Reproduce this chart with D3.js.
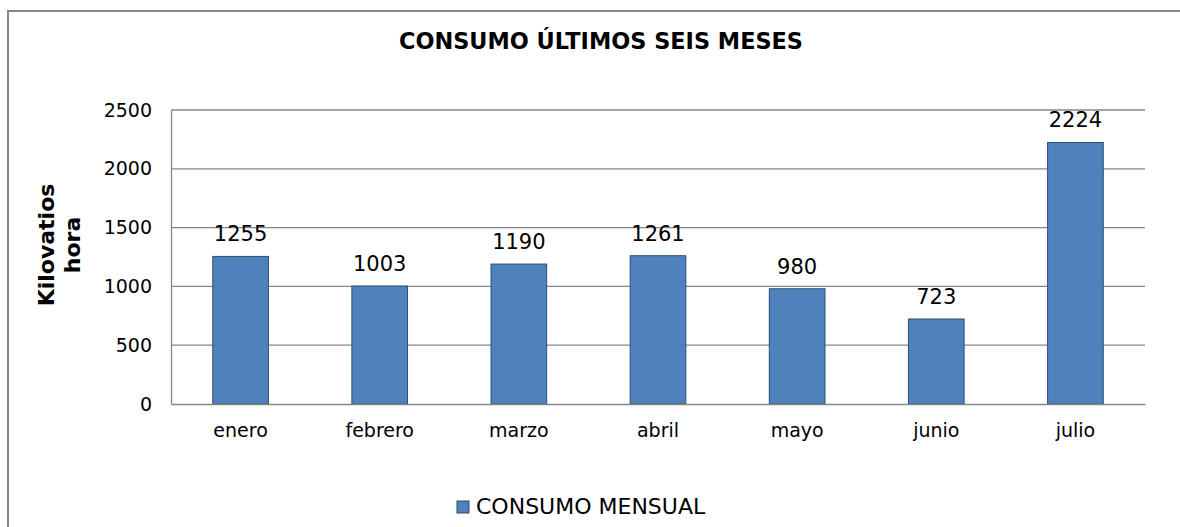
<!DOCTYPE html>
<html>
<head>
<meta charset="utf-8">
<script src="https://cdn.jsdelivr.net/npm/d3@7"></script>
<style>
  body { margin: 0; background: #fff; }
  svg { display: block; font-family: "DejaVu Sans", Verdana, sans-serif; }
</style>
</head>
<body>
<script>
const meses = ['enero', 'febrero', 'marzo', 'abril', 'mayo', 'junio', 'julio']
const consumo = [1255, 1003, 1190, 1261, 980, 723, 2224]
const ticksY = [0, 500, 1000, 1500, 2000, 2500]
const titulo = 'CONSUMO ÚLTIMOS SEIS MESES'
const nomeSerie = 'CONSUMO MENSUAL'

const margem = {topo: 110, direita: 35, base: 123, esquerda: 171}
const larguraTotal = 1180
const alturaTotal = 527
const largura = larguraTotal - margem.esquerda - margem.direita
const altura = alturaTotal - margem.topo - margem.base

const svg = d3.select('body').append('svg')
  .attr('width', larguraTotal)
  .attr('height', alturaTotal)

// moldura do gráfico (cortada à direita e em baixo)
svg.append('rect')
  .attr('x', 8).attr('y', 11)
  .attr('width', 1300).attr('height', 700)
  .attr('fill', 'none')
  .attr('stroke', '#868686')
  .attr('stroke-width', 2)

svg.append('text')
  .attr('x', 601).attr('y', 49)
  .attr('text-anchor', 'middle')
  .style('font-weight', 'bold')
  .style('font-size', '22.4px')
  .text(titulo)

const g = svg.append('g')
  .attr('transform', 'translate(' + margem.esquerda + ',' + margem.topo + ')')

const x = d3.scaleBand()
  .domain(meses)
  .range([0, largura])
  .paddingInner(0.6)
  .paddingOuter(0.3)

const y = d3.scaleLinear()
  .domain([0, 2500])
  .range([altura, 0])

// grade
g.selectAll('.grade')
  .data(ticksY.slice(1))
  .enter().append('line')
  .attr('x1', 0).attr('x2', largura)
  .attr('y1', d => y(d)).attr('y2', d => y(d))
  .attr('stroke', '#868686')
  .attr('stroke-width', 1.3)

const eixoY = d3.axisLeft(y).tickValues(ticksY).tickFormat(d3.format('d'))
  .tickSize(0).tickPadding(19)
const gy = g.append('g').call(eixoY)
gy.select('.domain').attr('stroke', '#868686').attr('stroke-width', 1.3)
gy.selectAll('text').style('font-size', '19px').style('font-family', 'DejaVu Sans').attr('fill', '#000')

g.selectAll('.barra')
  .data(consumo)
  .enter().append('rect')
  .attr('x', (d, i) => x(meses[i]))
  .attr('y', d => y(d))
  .attr('width', x.bandwidth())
  .attr('height', d => altura - y(d))
  .attr('fill', '#4F81BD')
  .attr('stroke', '#2C4D75')
  .attr('stroke-width', 1)

g.selectAll('.rotulo')
  .data(consumo)
  .enter().append('text')
  .attr('x', (d, i) => x(meses[i]) + x.bandwidth() / 2)
  .attr('y', d => y(d) - 15)
  .attr('text-anchor', 'middle')
  .style('font-size', '21px')
  .text(d => d)

const eixoX = d3.axisBottom(x).tickSize(0).tickPadding(20)
const gx = g.append('g')
  .attr('transform', 'translate(0,' + altura + ')')
  .call(eixoX)
gx.select('.domain').attr('stroke', '#868686').attr('stroke-width', 1.3)
gx.selectAll('text').style('font-size', '19px').style('font-family', 'DejaVu Sans').attr('fill', '#000')

// título do eixo y
const rotuloY = svg.append('text')
  .attr('transform', 'translate(54,245) rotate(-90)')
  .attr('text-anchor', 'middle')
  .style('font-weight', 'bold')
  .style('font-size', '22px')
rotuloY.append('tspan').attr('x', 0).attr('dy', 0).text('Kilovatios')
rotuloY.append('tspan').attr('x', 0).attr('dy', 26).text('hora')

// legenda
const legenda = svg.append('g').attr('transform', 'translate(457,501)')
legenda.append('rect')
  .attr('width', 12).attr('height', 12)
  .attr('fill', '#4F81BD')
  .attr('stroke', '#2C4D75')
legenda.append('text')
  .attr('x', 19).attr('y', 13)
  .style('font-size', '22px')
  .text(nomeSerie)
</script>
</body>
</html>
